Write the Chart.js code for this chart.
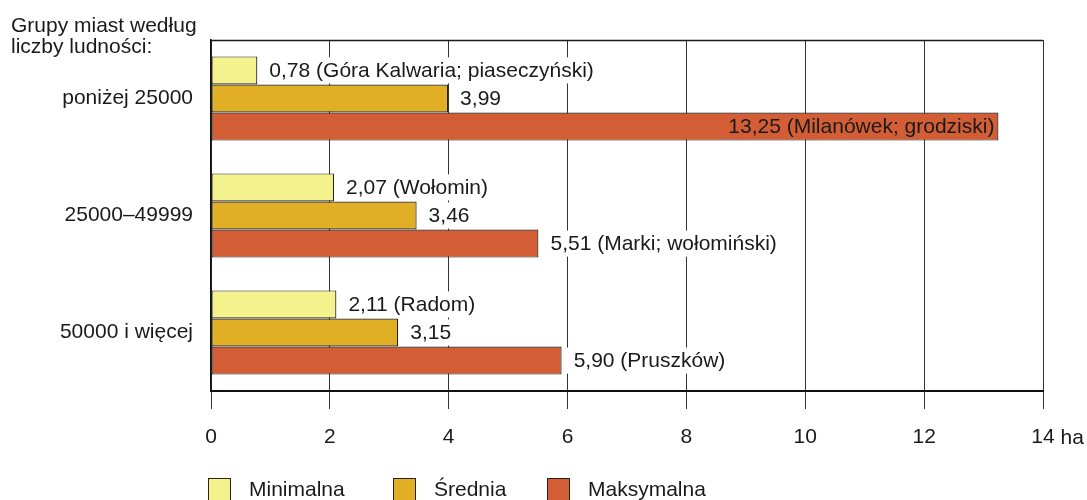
<!DOCTYPE html>
<html>
<head>
<meta charset="utf-8">
<script src="https://cdn.jsdelivr.net/npm/chart.js@4"></script>
<style>
  html, body { margin: 0; padding: 0; background: #fff; }
  #wrap { width: 1087px; height: 500px; position: relative; }
</style>
</head>
<body>
<div id="wrap"><canvas id="c" width="1087" height="500"></canvas></div>
<script>
const categories = ['poniżej 25000', '25000–49999', '50000 i więcej'];
const seriesNames = ['Minimalna', 'Średnia', 'Maksymalna'];
const minValues = [0.78, 2.07, 2.11];
const meanValues = [3.99, 3.46, 3.15];
const maxValues = [13.25, 5.51, 5.90];
const minNotes = ['Góra Kalwaria; piaseczyński', 'Wołomin', 'Radom'];
const meanNotes = ['', '', ''];
const maxNotes = ['Milanówek; grodziski', 'Marki; wołomiński', 'Pruszków'];
const xTicks = [0, 2, 4, 6, 8, 10, 12, 14];
const xUnit = 'ha';
const titleLines = ['Grupy miast według', 'liczby ludności:'];

const colors = ['#f4f28d', '#e1af26', '#d35e35'];
const borderCol = '#2a211c';
const FONT = '"Liberation Sans", Arial, sans-serif';
const FS = 21;

function fmt(v) { return v.toFixed(2).replace('.', ','); }

const notes = [minNotes, meanNotes, maxNotes];

const extras = {
  id: 'extras',
  afterDatasetsDraw(chart) {
    const ctx = chart.ctx;
    const area = chart.chartArea;
    ctx.save();
    ctx.font = FS + 'px ' + FONT;
    ctx.textBaseline = 'middle';
    chart.data.datasets.forEach((ds, di) => {
      const meta = chart.getDatasetMeta(di);
      meta.data.forEach((bar, i) => {
        const v = ds.data[i];
        const note = notes[di][i];
        const txt = fmt(v) + (note ? ' (' + note + ')' : '');
        const w = ctx.measureText(txt).width;
        const h = bar.height;
        const xEnd = bar.x;
        if (xEnd + 12 + w > area.right) {
          ctx.fillStyle = '#1a1a1a';
          ctx.textAlign = 'right';
          ctx.fillText(txt, xEnd - 4, bar.y + 1);
        } else {
          ctx.fillStyle = '#ffffff';
          ctx.fillRect(xEnd + 2, bar.y - h / 2 + 1, w + 16, h - 2);
          ctx.fillStyle = '#1a1a1a';
          ctx.textAlign = 'left';
          ctx.fillText(txt, xEnd + 12, bar.y + 1);
        }
      });
    });
    ctx.restore();
  },
  afterDraw(chart) {
    const ctx = chart.ctx;
    const area = chart.chartArea;
    const xs = chart.scales.x;
    ctx.save();
    // top border
    ctx.strokeStyle = '#1a1a1a';
    ctx.lineWidth = 1.5;
    ctx.beginPath();
    ctx.moveTo(area.left, area.top + 0.5);
    ctx.lineTo(area.right, area.top + 0.5);
    ctx.stroke();
    // title
    ctx.font = FS + 'px ' + FONT;
    ctx.fillStyle = '#1a1a1a';
    ctx.textAlign = 'left';
    ctx.textBaseline = 'alphabetic';
    ctx.fillText(titleLines[0], 11, 32);
    ctx.fillText(titleLines[1], 11, 53);
    // unit after last tick
    const last = xTicks[xTicks.length - 1];
    const lx = xs.getPixelForValue(last);
    const lw = ctx.measureText(String(last)).width;
    ctx.textBaseline = 'middle';
    ctx.fillText(' ' + xUnit, lx + lw / 2, 438);
    // legend
    const lxPos = [208, 393, 547];
    chart.data.datasets.forEach((ds, di) => {
      const x = lxPos[di];
      ctx.fillStyle = ds.backgroundColor;
      ctx.fillRect(x, 478, 23, 26);
      ctx.strokeStyle = borderCol;
      ctx.lineWidth = 1;
      ctx.strokeRect(x + 0.5, 478.5, 22, 26);
      ctx.fillStyle = '#1a1a1a';
      ctx.textAlign = 'left';
      ctx.fillText(ds.label, x + 41, 490);
    });
    ctx.restore();
  }
};

const ds = [minValues, meanValues, maxValues].map((arr, i) => ({
  label: seriesNames[i],
  data: arr,
  backgroundColor: colors[i],
  borderColor: borderCol,
  borderWidth: 1.2,
  borderSkipped: false,
  categoryPercentage: 0.72,
  barPercentage: 1.0
}));

new Chart(document.getElementById('c'), {
  type: 'bar',
  data: { labels: categories, datasets: ds },
  options: {
    indexAxis: 'y',
    responsive: false,
    animation: false,
    devicePixelRatio: 1,
    layout: { padding: { left: 0, right: 44, top: 40, bottom: 0 } },
    plugins: { legend: { display: false }, tooltip: { enabled: false }, title: { display: false } },
    scales: {
      x: {
        min: 0, max: 14,
        afterFit(s) { s.height = 109; },
        afterBuildTicks(s) { s.ticks = xTicks.map(v => ({ value: v })); },
        grid: { color: '#333333', lineWidth: 1, drawTicks: true, tickLength: 18, tickColor: '#333333' },
        border: { display: true, color: '#111111', width: 2 },
        ticks: { font: { family: FONT, size: FS }, color: '#1a1a1a', padding: 16, maxRotation: 0,
                 callback: v => String(v) }
      },
      y: {
        afterFit(s) { s.width = 211; },
        grid: { display: false, drawTicks: false },
        border: { display: true, color: '#111111', width: 1.5 },
        ticks: { font: { family: FONT, size: FS }, color: '#1a1a1a', padding: 18 }
      }
    }
  },
  plugins: [extras]
});
</script>
</body>
</html>
